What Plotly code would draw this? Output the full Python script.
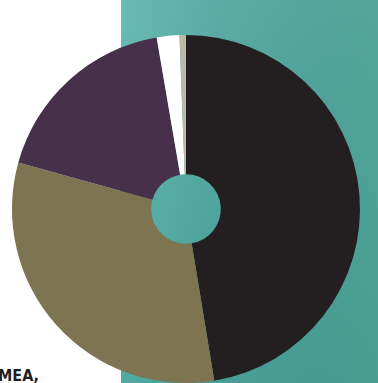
import base64
import plotly.graph_objects as go

# Data (clockwise from 12 o'clock)
categories = ["A", "B", "C", "D", "E"]
values = [47.4, 31.9, 18.0, 2.1, 0.6]
colors = ["#231f20", "#7d7452", "#46304b", "#ffffff", "#bdb9a9"]
label_text = "MEA,"

W, H = 378, 383

svg = f'''<svg xmlns="http://www.w3.org/2000/svg" width="257" height="383" viewBox="0 0 257 383" preserveAspectRatio="none">
<defs><linearGradient id="g" x1="0" y1="0" x2="1" y2="1">
<stop offset="0" stop-color="#6bbab6"/>
<stop offset="0.5" stop-color="#50aba4"/>
<stop offset="1" stop-color="#3fa197"/>
</linearGradient>
<linearGradient id="h" x1="0" y1="0" x2="1" y2="0">
<stop offset="0" stop-color="#000000" stop-opacity="0"/>
<stop offset="1" stop-color="#6a8a70" stop-opacity="0.18"/>
</linearGradient></defs>
<rect width="257" height="383" fill="url(#g)"/>
<rect width="257" height="383" fill="url(#h)"/>
</svg>'''
src = "data:image/svg+xml;base64," + base64.b64encode(svg.encode()).decode()

cx, cy, r = 186, 209, 174
fig = go.Figure(go.Pie(
    labels=categories,
    values=values,
    sort=False,
    direction="clockwise",
    rotation=0,
    hole=0.2,
    textinfo="none",
    hoverinfo="label+percent",
    marker=dict(colors=colors, line=dict(width=0)),
    domain=dict(x=[(cx - r) / W, (cx + r) / W], y=[(H - cy - r) / H, (H - cy + r) / H]),
    showlegend=False,
))

fig.add_layout_image(dict(
    source=src, xref="paper", yref="paper", x=121 / W, y=1, sizex=(W - 121) / W, sizey=1,
    xanchor="left", yanchor="top", sizing="stretch", layer="below",
))

fig.add_annotation(
    text=f"<b>{label_text}</b>", xref="paper", yref="paper", x=-4 / W, y=(H - 375) / H,
    xanchor="left", yanchor="middle", showarrow=False,
    font=dict(family="DejaVu Sans Condensed", size=16, color="#231f20"),
)

fig.update_layout(
    width=W, height=H, margin=dict(l=0, r=0, t=0, b=0),
    paper_bgcolor="white", plot_bgcolor="white",
)
fig.write_html(
    "out.html",
    config={"displayModeBar": False},
    post_script="document.body.style.margin='0';document.body.style.overflow='hidden';",
)
